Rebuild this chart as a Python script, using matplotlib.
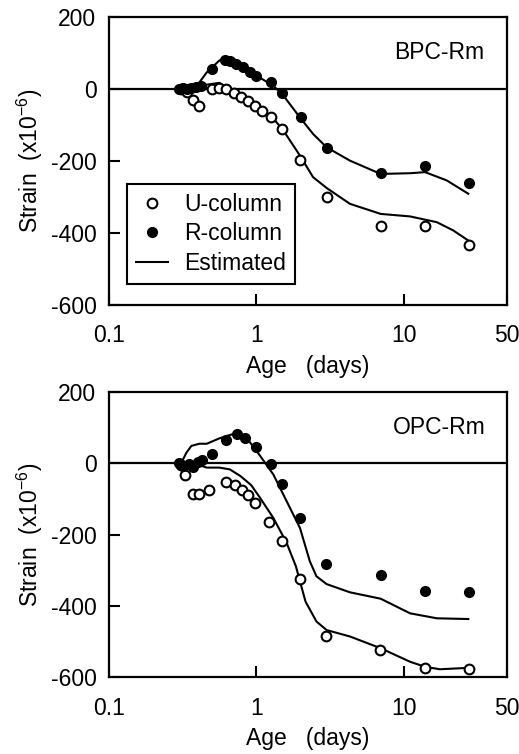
import numpy as np
import matplotlib
matplotlib.use("Agg")
import matplotlib.pyplot as plt

plt.rcParams['font.family'] = ['Liberation Sans', 'DejaVu Sans']
plt.rcParams['mathtext.default'] = 'regular'
plt.rcParams['font.size'] = 16.5

# BPC-Rm : measured strains
bpc_u_age = [0.31, 0.34, 0.37, 0.41, 0.50, 0.56, 0.62, 0.70, 0.78, 0.87, 0.97,
             1.09, 1.25, 1.50, 1.97, 2.99, 6.95, 13.9, 27.6]
bpc_u_strain = [0, -8, -30, -48, 0, 3, 0, -10, -22, -33, -47,
                -60, -77, -112, -197, -299, -381, -381, -433]
bpc_r_age = [0.30, 0.32, 0.34, 0.36, 0.39, 0.42, 0.50, 0.61, 0.66, 0.73, 0.81,
             0.90, 1.00, 1.25, 1.49, 1.99, 2.99, 6.95, 13.9, 27.6]
bpc_r_strain = [0, 3, 0, 2, 5, 8, 55, 80, 78, 68, 60,
                48, 35, 20, -12, -79, -164, -233, -215, -262]

# BPC-Rm : estimated curves
bpc_u_est_age = [0.31, 0.39, 0.46, 0.56, 0.70, 0.855, 1.0, 1.30, 1.52, 1.97,
                 2.42, 2.99, 4.30, 6.95, 11.0, 16.7, 21.6, 27.3]
bpc_u_est_strain = [0, 2, 12, 17, -8, -30, -47, -82, -115, -185,
                    -245, -275, -319, -347, -354, -370, -393, -421]
bpc_r_est_age = [0.31, 0.39, 0.46, 0.56, 0.63, 0.70, 0.855, 1.0, 1.30, 1.52,
                 1.97, 2.42, 2.99, 4.30, 6.95, 11.0, 13.9, 19.5, 27.3]
bpc_r_est_strain = [0, 6, 46, 79, 88, 84, 60, 37, 9, -18,
                    -79, -125, -162, -199, -236, -234, -231, -254, -291]

# OPC-Rm : measured strains
opc_u_age = [0.31, 0.33, 0.37, 0.41, 0.48, 0.62, 0.72, 0.80, 0.87, 0.97,
             1.22, 1.48, 1.97, 2.94, 6.87, 13.9, 27.6]
opc_u_strain = [-5, -33, -87, -85, -75, -52, -62, -75, -88, -111,
                -164, -219, -324, -484, -524, -574, -576]
opc_r_age = [0.30, 0.32, 0.35, 0.37, 0.40, 0.43, 0.50, 0.62, 0.74, 0.84,
             1.0, 1.245, 1.48, 1.97, 2.94, 6.95, 13.9, 27.6]
opc_r_strain = [0, -8, -3, -10, 5, 8, 27, 65, 82, 70,
                46, -3, -57, -153, -283, -313, -358, -362]

# OPC-Rm : estimated curves
opc_u_est_age = [0.31, 0.37, 0.41, 0.46, 0.56, 0.66, 0.78, 0.92, 1.05, 1.30,
                 1.60, 1.85, 2.15, 2.55, 2.99, 4.30, 6.95, 11.0, 13.9, 17.5, 27.6]
opc_u_est_strain = [-3, -5, -5, -12, -12, -17, -36, -61, -95, -153,
                    -223, -289, -388, -444, -468, -486, -519, -557, -571, -578, -574]
opc_r_est_age = [0.31, 0.335, 0.362, 0.41, 0.46, 0.56, 0.63, 0.73, 0.855, 1.05,
                 1.30, 1.60, 1.97, 2.30, 2.55, 2.99, 4.30, 6.95, 11.0, 16.7, 27.3]
opc_r_est_strain = [2, 30, 49, 55, 55, 70, 77, 85, 72, 23,
                    -31, -106, -181, -275, -317, -339, -362, -380, -421, -435, -437]

xticks = [0.1, 1, 10, 50]
xtick_labels = ['0.1', '1', '10', '50']
yticks = [200, 0, -200, -400, -600]


def draw_panel(ax, name, u_age, u_strain, r_age, r_strain,
               u_est_age, u_est_strain, r_est_age, r_est_strain, legend=False):
    ax.axhline(0, color='black', linewidth=1.6, zorder=1)
    ax.plot(u_est_age, u_est_strain, color='black', linewidth=1.5,
            label='Estimated', zorder=2)
    ax.plot(r_est_age, r_est_strain, color='black', linewidth=1.5, zorder=2)
    ax.plot(u_age, u_strain, 'o', markersize=7, markerfacecolor='white',
            markeredgecolor='black', markeredgewidth=1.5, label='U-column', zorder=3)
    ax.plot(r_age, r_strain, 'o', markersize=7, markerfacecolor='black',
            markeredgecolor='black', label='R-column', zorder=4)

    ax.set_xscale('log')
    ax.set_xlim(0.1, 50)
    ax.set_ylim(-600, 200)
    ax.set_xticks(xticks)
    ax.set_xticklabels(xtick_labels)
    ax.xaxis.set_minor_locator(matplotlib.ticker.NullLocator())
    ax.set_yticks(yticks)
    ax.set_yticklabels([str(v) for v in yticks])
    ax.tick_params(axis='x', direction='in', length=8, width=1.5, pad=14)
    ax.tick_params(axis='y', direction='in', length=8, width=1.5, pad=9)
    for sp in ax.spines.values():
        sp.set_linewidth(1.6)

    ax.set_xlabel('Age   (days)')
    ax.xaxis.set_label_coords(0.5, -0.175)
    ax.set_ylabel('Strain  (x10$^{-6}$)')
    ax.yaxis.set_label_coords(-0.16, 0.5)
    ax.text(0.83, 0.875, name, transform=ax.transAxes, ha='center', va='center')

    if legend:
        handles, labels = ax.get_legend_handles_labels()
        order = [1, 2, 0]
        leg = ax.legend([handles[i] for i in order], [labels[i] for i in order],
                        loc='lower left', bbox_to_anchor=(0.044, 0.073),
                        fancybox=False, framealpha=1, edgecolor='black',
                        handlelength=1.4, handletextpad=0.7, labelspacing=0.28,
                        borderpad=0.4, borderaxespad=0)
        leg.get_frame().set_linewidth(1.5)


fig = plt.figure(figsize=(5.19, 7.54), dpi=100)
ax1 = fig.add_axes([0.21, 0.5955, 0.767, 0.382])
ax2 = fig.add_axes([0.21, 0.102, 0.767, 0.378])

draw_panel(ax1, 'BPC-Rm', bpc_u_age, bpc_u_strain, bpc_r_age, bpc_r_strain,
           bpc_u_est_age, bpc_u_est_strain, bpc_r_est_age, bpc_r_est_strain,
           legend=True)
draw_panel(ax2, 'OPC-Rm', opc_u_age, opc_u_strain, opc_r_age, opc_r_strain,
           opc_u_est_age, opc_u_est_strain, opc_r_est_age, opc_r_est_strain)

fig.savefig('out.png', dpi=100)
